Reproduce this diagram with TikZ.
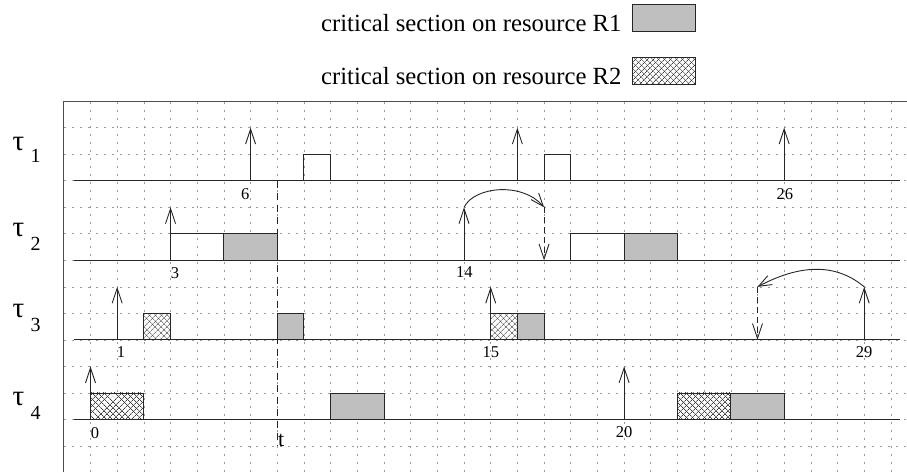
\documentclass[tikz,border=0pt]{standalone}
\usepackage{fontspec}
\setmainfont{Liberation Serif}
\usetikzlibrary{arrows.meta,patterns.meta}
\definecolor{boxgray}{gray}{0.75}
\definecolor{linec}{gray}{0.15}
\definecolor{gridc}{gray}{0.6}
\definecolor{hatchc}{gray}{0.25}
\begin{document}
\begin{tikzpicture}[x=26.68pt,y=26.53pt,
  gridline/.style={gridc, line width=0.6pt, dash pattern=on 2.5pt off 5.5pt},
  frame/.style={draw=gray!60!black, line width=1.2pt},
  baseline/.style={draw=linec, line width=1.1pt},
  job/.style={draw=linec, line width=0.9pt},
  cs1/.style={job, fill=boxgray},
  cs2/.style={job,
    preaction={fill=white},
    preaction={pattern={Lines[angle=45,distance=4pt,line width=0.65pt]}, pattern color=hatchc},
    preaction={pattern={Lines[angle=-45,distance=4pt,line width=0.65pt]}, pattern color=hatchc}},
  rel/.style={draw=linec, line width=0.9pt, -{Straight Barb[length=15pt,width=10pt,line width=0.9pt]}},
  relcurve/.style={draw=linec, line width=0.9pt, -{Straight Barb[length=13pt,width=10pt,line width=0.9pt]}},
  reldash/.style={rel, dash pattern=on 6pt off 4pt},
  tline/.style={draw=linec, line width=1pt, dash pattern=on 7pt off 5pt},
  num/.style={font=\fontsize{16.5}{16.5}\selectfont, inner sep=0pt},
  taulbl/.style={font=\fontsize{29}{29}\selectfont, inner sep=0pt},
  sublbl/.style={font=\fontsize{20}{20}\selectfont, inner sep=0pt},
  legtxt/.style={font=\fontsize{24.7}{24.7}\selectfont, inner sep=0pt, anchor=base east}
]
\useasboundingbox (-90.5pt,-52.5pt) rectangle (816.5pt,419.5pt);

% grid
\foreach \i in {0,...,30} \draw[gridline] (\i,-1.98) -- (\i,12);
\foreach \j in {-1,...,11} \draw[gridline] (-1,\j) -- (30.61,\j);
\draw[frame] (-1,-1.98) -- (-1,12) -- (30.61,12);

% baselines
\foreach \b in {0,3,6,9} \draw[baseline] (-0.62,\b) -- (30.34,\b);

% legend
\node[legtxt] (leg1) at (19.91,14.625) {critical section on resource R1};
\node[legtxt] (leg2) at (19.91,12.627) {critical section on resource R2};
\draw[cs1] (20.32,14.62) rectangle (22.66,15.65);
\draw[cs2] (20.32,12.635) rectangle (22.66,13.64);

% task labels
\node[taulbl] (t1) at (-2.70,10.38) {τ};
\node[sublbl] (s1) at (-2.06,9.93) {1};
\node[taulbl] (t2) at (-2.70,7.14) {τ};
\node[sublbl] (s2) at (-2.06,6.62) {2};
\node[taulbl] (t3) at (-2.70,4.09) {τ};
\node[sublbl] (s3) at (-2.06,3.56) {3};
\node[taulbl] (t4) at (-2.70,0.77) {τ};
\node[sublbl] (s4) at (-2.06,0.26) {4};

% tau 1 (baseline 9)
\coordinate (a1a) at (6,9);  \coordinate (a1at) at (6,11);
\coordinate (a1b) at (16,9); \coordinate (a1bt) at (16,11);
\coordinate (a1c) at (26,9); \coordinate (a1ct) at (26,11);
\draw[rel] (a1a) -- (a1at);
\draw[rel] (a1b) -- (a1bt);
\draw[rel] (a1c) -- (a1ct);
\draw[job] (8,9) -- (8,10) -- (9,10) -- (9,9);
\draw[job] (17,9) -- (17,10) -- (18,10) -- (18,9);
\node[num] (n6) at (5.8,8.5) {6};
\node[num] (n26) at (26.03,8.5) {26};

% tau 2 (baseline 6)
\coordinate (a2a) at (3,6);  \coordinate (a2at) at (3,8);
\coordinate (a2b) at (14,6); \coordinate (a2bt) at (14,8);
\coordinate (d2t) at (17,8); \coordinate (d2b) at (17,6);
\draw[rel] (a2a) -- (a2at);
\draw[rel] (a2b) -- (a2bt);
\draw[relcurve] (a2bt) .. controls (14.4,8.8) and (16.2,8.95) .. (d2t);
\draw[reldash] (d2t) -- (d2b);
\draw[job] (3,6) rectangle (5,7);
\draw[cs1] (5,6) rectangle (7,7);
\draw[job] (18,6) rectangle (20,7);
\draw[cs1] (20,6) rectangle (22,7);
\node[num] (n3) at (3.17,5.53) {3};
\node[num] (n14) at (14.01,5.55) {14};

% tau 3 (baseline 3)
\coordinate (a3a) at (1,3);  \coordinate (a3at) at (1,5);
\coordinate (a3b) at (15,3); \coordinate (a3bt) at (15,5);
\coordinate (a3c) at (29,3); \coordinate (a3ct) at (29,5);
\coordinate (d3t) at (25,5); \coordinate (d3b) at (25,3);
\draw[rel] (a3a) -- (a3at);
\draw[rel] (a3b) -- (a3bt);
\draw[rel] (a3c) -- (a3ct);
\draw[relcurve] (a3ct) to[out=140,in=28] (d3t);
\draw[reldash] (d3t) -- (d3b);
\draw[cs2] (2,3) rectangle (3,4);
\draw[cs1] (7,3) rectangle (8,4);
\draw[cs2] (15,3) rectangle (16,4);
\draw[cs1] (16,3) rectangle (17,4);
\node[num] (n1) at (1.14,2.53) {1};
\node[num] (n15) at (15.01,2.55) {15};
\node[num] (n29) at (29.0,2.55) {29};

% tau 4 (baseline 0)
\coordinate (a4a) at (0,0);  \coordinate (a4at) at (0,2);
\coordinate (a4b) at (20,0); \coordinate (a4bt) at (20,2);
\draw[rel] (a4a) -- (a4at);
\draw[rel] (a4b) -- (a4bt);
\draw[cs2] (0,0) rectangle (2,1);
\draw[cs1] (9,0) rectangle (11,1);
\draw[cs2] (22,0) rectangle (24,1);
\draw[cs1] (24,0) rectangle (26,1);
\node[num] (n0) at (0.17,-0.5) {0};
\node[num] (n20) at (20.0,-0.47) {20};

% time t
\coordinate (tt) at (7,9); \coordinate (tb) at (7,-1);
\draw[tline] (tt) -- (tb);
\node[font=\fontsize{22}{22}\selectfont, inner sep=0pt] (tl) at (7.15,-0.78) {t};
\end{tikzpicture}
\end{document}
